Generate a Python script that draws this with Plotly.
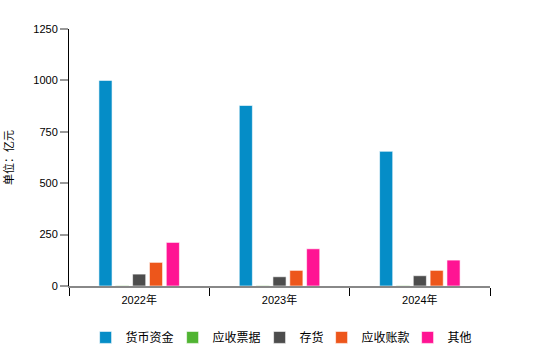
import plotly.graph_objects as go

years = ["2022年", "2023年", "2024年"]
series_names = ["货币资金", "应收票据", "存货", "应收账款", "其他"]
cash = [1000, 878, 655]
notes = [2, 2, 2]
inventory = [58, 45, 50]
receivables = [115, 76, 76]
others = [212, 181, 126]
colors = ["#058DC7", "#50B432", "#4D4D4D", "#ED561B", "#FF1493"]
legend_widths = [42, 42, 17, 41, 25]
y_ticks = [0, 250, 500, 750, 1000, 1250]

fig = go.Figure()
for name, vals, c, lw in zip(series_names, [cash, notes, inventory, receivables, others], colors, legend_widths):
    fig.add_trace(go.Bar(
        x=years, y=vals, name=name, legendwidth=lw,
        marker=dict(color=c, line=dict(color="rgba(255,255,255,0.6)", width=1)),
    ))

fig.update_layout(
    width=560, height=346,
    margin=dict(l=69, r=70, t=29, b=59.5, autoexpand=False),
    paper_bgcolor="white", plot_bgcolor="white",
    barmode="group", bargap=0.40, bargroupgap=0.22,
    font=dict(family="Liberation Sans, Arial, Noto Sans CJK SC", size=11, color="#000"),
    showlegend=True,
    legend=dict(orientation="h", x=0.505, xanchor="center", y=-0.2, yanchor="middle",
                font=dict(size=12, family="Noto Sans CJK SC"), itemclick=False),
)
fig.update_xaxes(
    showline=True, linecolor="#888", linewidth=2,
    ticks="outside", tickson="boundaries", tickcolor="#000", ticklen=8, tickwidth=1,
    showgrid=False, tickfont=dict(size=11), ticklabelstandoff=3,
)
fig.update_yaxes(
    range=[0, 1250], tickvals=y_ticks, showgrid=False, zeroline=False,
    showline=True, linecolor="#000", linewidth=1,
    ticks="outside", tickcolor="#999", ticklen=8, tickwidth=2,
    title=dict(text="单位：亿元", standoff=19, font=dict(size=11, family="Noto Sans CJK SC")),
)

fig.write_html("out.html")
